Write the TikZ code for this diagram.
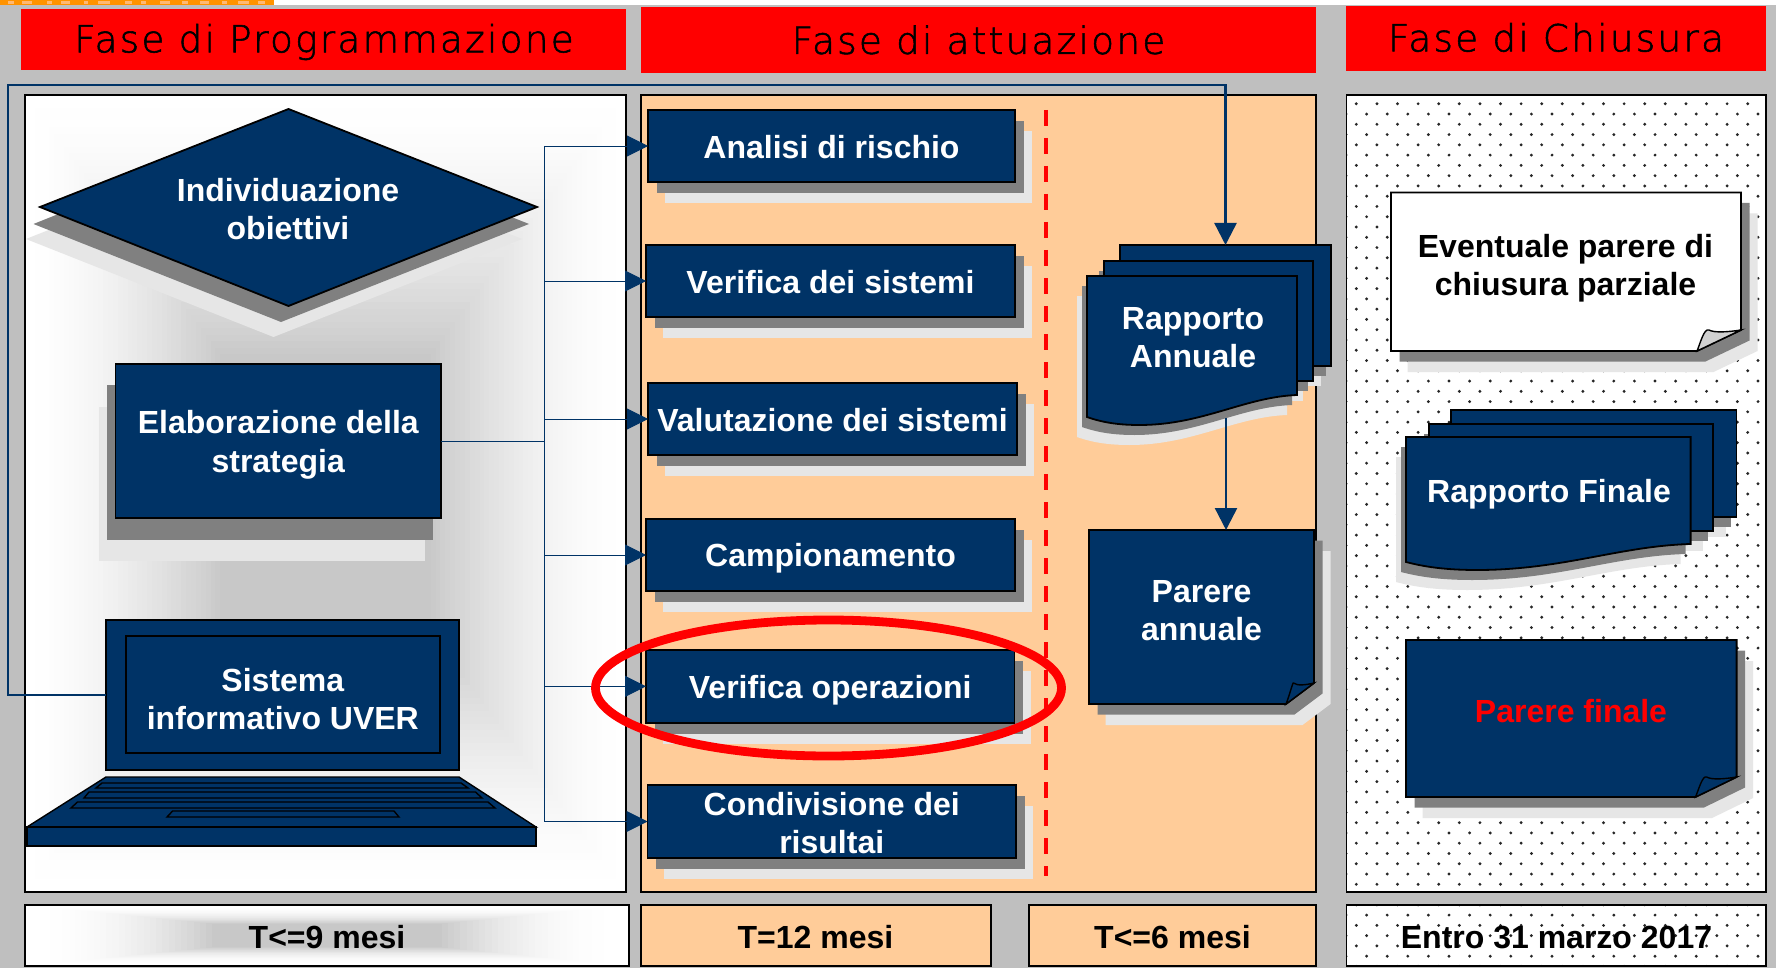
\documentclass[tikz,border=0pt]{standalone}
\usepackage{fontspec}
\setmainfont{Liberation Sans}
\newfontfamily\hdrfont[LetterSpace=6,FakeBold=1.5]{DejaVu Sans ExtraLight}
\usetikzlibrary{arrows.meta}
\definecolor{navy}{HTML}{003366}
\definecolor{peach}{HTML}{FFCC99}
\definecolor{bggray}{HTML}{BFBFBF}
\definecolor{shgray}{HTML}{808080}
\definecolor{shlight}{HTML}{E6E6E6}
\definecolor{coregray}{HTML}{C8C8C8}
\definecolor{hred}{HTML}{FF0000}
\tikzset{
  navybox/.style={draw=black,line width=0.8pt,fill=navy,inner sep=0pt,outer sep=0pt},
  whitetxt/.style={text=white,align=center,inner sep=0pt,font=\fontsize{16}{18.9}\selectfont\bfseries},
  blacktxt/.style={text=black,align=center,inner sep=0pt,font=\fontsize{16}{19}\selectfont\bfseries},
  hdrbox/.style={fill=hred,inner sep=0pt,outer sep=0pt},
  hdrtxt/.style={text=black,inner sep=0pt,font=\fontsize{18.7}{22}\selectfont\hdrfont},
  panelline/.style={draw=black,line width=0.8pt},
  doc/.style={draw=black,line width=0.9pt,fill=navy},
  shadowa/.style={fill=shgray},
  shadowb/.style={fill=shlight},
  conn/.style={draw=navy,line width=1.2pt},
  tree/.style={draw=navy,line width=0.45pt},
  treetip/.style={draw=navy,line width=0.45pt,-{Triangle[length=10.5pt,width=10.5pt]}},
  bigtip/.style={draw=navy,line width=1.2pt,-{Triangle[length=11pt,width=11pt]}},
  keys/.style={draw=black,line width=0.7pt,fill=navy}
}
\newcommand\navynode[5]{\node[navybox,minimum width={(#4-#2)*0.5pt},minimum height={(#5-#3)*0.5pt}] (#1) at ({(#2+#4)/2},{(#3+#5)/2}) {};}
\newcommand\boxtext[3]{\node[whitetxt,yshift={-(#2)*0.5pt}] (#1t) at (#1.center) {#3};}
\newcommand\wavepath[6]{(#1,#2) -- (#3,#2) -- (#3,#4) .. controls ({#3-.25*(#3-#1)},{#4+2}) and ({#1+.55*(#3-#1)},#6) .. ({#1+.25*(#3-#1)},#6) .. controls ({#1+.16*(#3-#1)},#6) and ({#1+.08*(#3-#1)},{#6-2}) .. (#1,#5) -- cycle}
\newcommand\wavedoc[6]{%
  \fill[shadowb,shift={(-10,20)}] \wavepath{#1}{#2}{#3}{#4}{#5}{#6};
  \fill[shadowa,shift={(-5,10)}] \wavepath{#1}{#2}{#3}{#4}{#5}{#6};
  \path[doc] \wavepath{#1}{#2}{#3}{#4}{#5}{#6};}
\newcommand\foldpath[6]{(#1,#2) -- (#3,#2) -- (#3,#6) -- (#5,#4) -- (#1,#4) -- cycle}
\newcommand\folddoc[7]{%
  \fill[shadowb,shift={(16.5,21)}] \foldpath{#1}{#2}{#3}{#4}{#5}{#6};
  \fill[shadowa,shift={(8.5,10.5)}] \foldpath{#1}{#2}{#3}{#4}{#5}{#6};
  \path[draw=black,line width=0.9pt,fill=#7] \foldpath{#1}{#2}{#3}{#4}{#5}{#6};}
\newcommand\curl[5]{\path[draw=black,line width=0.7pt,fill=#5] (#1,#2) .. controls ({#1+3},{#2-7}) and ({#1+7},{#4-2}) .. ({#1+.27*(#3-#1)},{#4+0}) .. controls ({#1+.4*(#3-#1)},{#4+3}) and ({#1+.7*(#3-#1)},{#4+2}) .. (#3,#4) -- cycle;}
\begin{document}
\begin{tikzpicture}[x=0.5pt,y=-0.5pt]
\useasboundingbox (0,0) rectangle (1776,968);
% page
\fill[white] (0,0) rectangle (1776,968);
\fill[bggray] (0,5) rectangle (1776,968);
\fill[orange!85!yellow] (0,0) rectangle (274,5);
\foreach \xs/\ws in {8/6,22/10,47/5,61/9,84/4,98/12,125/7,141/5,160/10,182/6,200/9,222/5,238/11,258/7}{
  \fill[orange!55!white] (\xs,1) rectangle ({\xs+\ws},4);
}
% headers
\node[hdrbox,minimum width=302.5pt,minimum height=30.5pt] (h1) at (323.5,39.5) {};
\node[hdrbox,minimum width=337.5pt,minimum height=33pt] (h2) at (978.5,40) {};
\node[hdrbox,minimum width=210pt,minimum height=32.5pt] (h3) at (1556,38.5) {};
\node[hdrtxt] (h1t) at (324,42) {Fase di Programmazione};
\node[hdrtxt] (h2t) at (978.5,40) {Fase di attuazione};
\node[hdrtxt] (h3t) at (1556,37.5) {Fase di Chiusura};
% white panel with soft shading
\fill[white] (25,95) rectangle (626,892);
\foreach \i in {0,...,40}{
  \pgfmathsetmacro\tt{0.65*\i/40}
  \pgfmathsetmacro\pp{100*(\i/40)^1.6}
  \fill[coregray!\pp!white] ({325.5-300.5*(1-\tt)},{493.5-398.5*(1-\tt)}) rectangle ({325.5+300.5*(1-\tt)},{493.5+398.5*(1-\tt)});
}
\draw[panelline] (25,95) rectangle (626,892);
% peach panel
\fill[peach] (641,95) rectangle (1316,892);
\draw[panelline] (641,95) rectangle (1316,892);
% bottom bars
\fill[white] (25,905) rectangle (629,966);
\foreach \i in {0,...,30}{
  \pgfmathsetmacro\tt{0.62*\i/30}
  \pgfmathsetmacro\pp{100*(\i/30)^2.2}
  \fill[coregray!\pp!white] ({327-302*(1-\tt)},{935.5-30.5*(1-\tt)}) rectangle ({327+302*(1-\tt)},{935.5+30.5*(1-\tt)});
}
\draw[panelline] (25,905) rectangle (629,966);
\fill[peach] (641,905) rectangle (991,966);
\draw[panelline] (641,905) rectangle (991,966);
\fill[peach] (1029,905) rectangle (1316,966);
\draw[panelline] (1029,905) rectangle (1316,966);
% dotted panels
\fill[white] (1346.5,95) rectangle (1766,892);
\fill[white] (1346.5,905) rectangle (1766,966);
\begin{scope}
  \clip (1346.5,95) rectangle (1766,892) (1346.5,905) rectangle (1766,966);
  \fill[black!85]
  \foreach \r in {0,...,85}{
    \foreach \c in {0,...,21}{
      ({1346+20.6*\c+10.3*mod(\r,2)},{93.5+10.27*\r}) circle (0.8pt)
    }
  };
\end{scope}
\draw[panelline] (1346.5,95) rectangle (1766,892);
\draw[panelline] (1346.5,905) rectangle (1766,966);
% red dashed divider
\draw[hred,line width=2.2pt,dash pattern=on 8pt off 6pt] (1046,110) -- (1046,876);
% diamond
\fill[shadowb] (26,239) -- (273.5,141) -- (522,239) -- (273.5,337) -- cycle;
\fill[shadowa] (33.5,224) -- (281,125) -- (529,224) -- (281,322) -- cycle;
\path[doc] (40,207) -- (288.5,109) -- (537,207) -- (288.5,306) -- cycle;
\node[whitetxt] (indiv) at (288,209) {Individuazione\\obiettivi};
% strategy
\fill[shadowb] (99,407) rectangle (424.5,561);
\fill[shadowa] (107,385) rectangle (432.6,540);
\navynode{elab}{115.5}{364}{441}{518}
\boxtext{elab}{4}{Elaborazione della\\[0.8pt]strategia}
% laptop
\navynode{screen}{106}{620}{459}{770}
\navynode{sistema}{125.7}{636}{440}{753}
\boxtext{sistema}{4.5}{Sistema\\informativo UVER}
\path[keys] (106,777) -- (459,777) -- (536,827) -- (27,827) -- cycle;
\path[keys] (27,827) rectangle (536,846);
\path[keys] (102,783) -- (461,783) -- (468,788) -- (96,788) -- cycle;
\path[keys] (89,792) -- (475.5,792) -- (482,798) -- (84,798) -- cycle;
\path[keys] (77.5,802) -- (488,802) -- (495,808) -- (71,808) -- cycle;
\path[keys] (172.6,811) -- (394,811) -- (399,817) -- (167,817) -- cycle;
% activity boxes
\foreach \xa/\ya/\xb/\yb in {648/110/1015/182,646/245/1015/317,648/383/1017/455,646/519/1015/591,646/650/1014.5/722.7,647.5/785/1016/858}{
  \fill[shadowb] ({\xa+16.5},{\ya+21}) rectangle ({\xb+16.5},{\yb+21});
  \fill[shadowa] ({\xa+8.5},{\ya+11}) rectangle ({\xb+8.5},{\yb+11});
}
\navynode{analisi}{648}{110}{1015}{182}
\boxtext{analisi}{1}{Analisi di rischio}
\navynode{versis}{646}{245}{1015}{317}
\boxtext{versis}{1}{Verifica dei sistemi}
\navynode{valsis}{648}{383}{1017}{455}
\boxtext{valsis}{1}{Valutazione dei sistemi}
\navynode{camp}{646}{519}{1015}{591}
\boxtext{camp}{3}{Campionamento}
\navynode{verop}{646}{650}{1014.5}{722.7}
\boxtext{verop}{4}{Verifica operazioni}
\navynode{cond}{647.5}{785}{1016}{858}
\boxtext{cond}{1.5}{Condivisione dei\\risultai}
% Rapporto annuale
\fill[shadowb] (1115,270) rectangle (1321,386);
\fill[shadowa] (1125,260) rectangle (1326,376);
\navynode{rapback}{1120}{245}{1331}{366}
\fill[shadowb] (1100,281) rectangle (1303,401);
\fill[shadowa] (1099,271) rectangle (1308,391);
\navynode{rapmid}{1104}{261}{1313}{381}
\wavedoc{1087}{276}{1297}{395}{417}{425}
\node[whitetxt] (rapa) at (1193,337.5) {Rapporto\\Annuale};
% Parere annuale
\folddoc{1089}{530}{1314}{704}{1286}{683}{navy}
\curl{1286}{704}{1314}{683}{navy}
\node[whitetxt] (parere) at (1201.5,610.5) {Parere\\annuale};
\coordinate (pareretop) at (1226,530);
\coordinate (rapout) at (1226,418);
% Eventuale
\folddoc{1391}{192.5}{1741}{351}{1697}{330}{white}
\curl{1697}{351}{1741}{330}{black!18}
\node[blacktxt] (even) at (1565.5,268) {Eventuale parere di\\chiusura parziale};
% Rapporto finale
\fill[shadowb] (1446,430) rectangle (1726,537);
\fill[shadowa] (1456,420) rectangle (1731,527);
\navynode{finback}{1451}{410}{1736.6}{517}
\fill[shadowb] (1419,444) rectangle (1703,551);
\fill[shadowa] (1424,434) rectangle (1708,541);
\navynode{finmid}{1429}{424}{1713}{531}
\wavedoc{1406}{437}{1690.6}{544}{562}{570}
\node[whitetxt] (rapf) at (1549,494) {Rapporto Finale};
% Parere finale
\folddoc{1406}{640}{1736.6}{797}{1695.5}{777}{navy}
\curl{1695.5}{797}{1736.6}{777}{navy}
\node[whitetxt,text=hred] (parf) at (1571,711.5) {Parere finale};
% bottom labels
\node[blacktxt] (t9) at (327,937) {T<=9 mesi};
\node[blacktxt] (t12) at (815.5,937) {T=12 mesi};
\node[blacktxt] (t6) at (1172.5,937) {T<=6 mesi};
\node[blacktxt] (t31) at (1556.5,937) {Entro 31 marzo 2017};
% connectors
\coordinate (spt) at (544,146);
\draw[tree] (spt |- analisi.west) -- (spt |- cond.west);
\draw[tree] (elab.east) -- (spt |- elab.east);
\foreach \n in {analisi,versis,valsis,camp,verop,cond}{
  \draw[treetip] (spt |- \n.west) -- (\n.west);
}
\coordinate (c1) at (8,695);
\coordinate (c2) at (8,85);
\draw[conn,-{Triangle[length=11pt,width=11pt]}] (screen.west) -- (c1) -- (c2) -- (c2 -| rapback.north) -- (rapback.north);
\draw[bigtip] (rapout) -- (pareretop);
% red ring
\draw[hred,line width=4.4pt] (828.5,688) ellipse [x radius=116.5pt,y radius=34pt];
\end{tikzpicture}
\end{document}
